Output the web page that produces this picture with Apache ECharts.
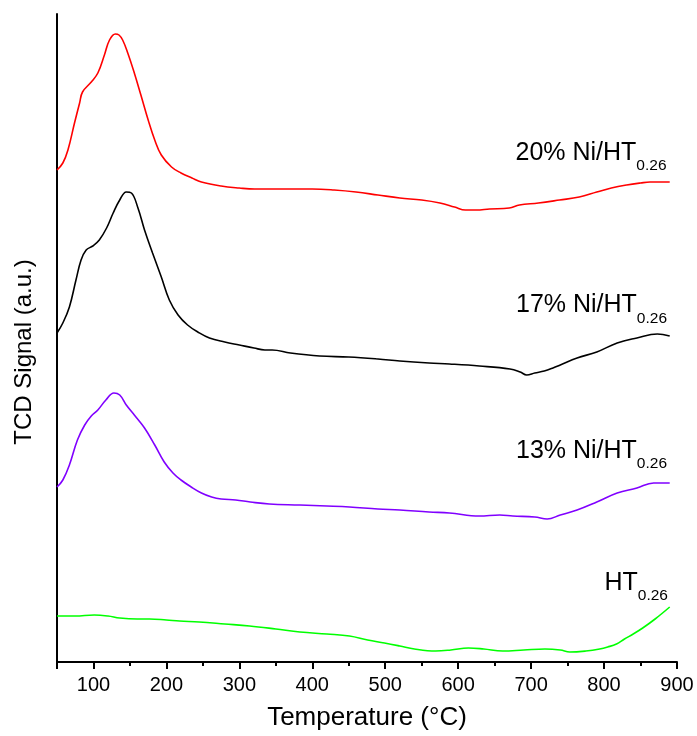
<!DOCTYPE html>
<html><head><meta charset="utf-8">
<script src="https://cdn.jsdelivr.net/npm/echarts@6/dist/echarts.min.js"></script>
<style>html,body{margin:0;padding:0;background:#fff}#c{width:697px;height:736px}</style>
</head><body><div id="c"></div>
<script>
// ---- data (temperature °C, TCD signal in arbitrary units) ----
const redT = [50,58,65,74,81,85,97,106,115,122,130,135,140,147,156,165,175,184,193,207,220,235,248,275,300,321,360,400,430,460,490,520,550,575,595,610,625,643,670,684,710,739,766,790,810,831,850,863,880,890];
const redV = [492,499,512,539,559,570,580,589,607,622,628,627,622,609,589,567,542,522,507,495,489,484,480,476,474,473,473,473,472,470,467,464,462,459,455,452,452,453,454,457,459,462,465,470,474,477,479,480,480,480];

const blackT = [50,58,67,76,83,90,99,108,118,127,136,145,152,161,170,181,193,204,216,229,243,259,280,300,320,335,345,370,410,450,490,520,560,588,629,671,685,694,705,718,730,740,763,790,818,845,873,890];
const blackV = [329,339,355,382,402,412,416,422,434,449,462,470,469,454,432,409,385,362,347,337,330,324,320,317,314,312,312,309,306,305,303,301,299,298,296,293,290,287,289,291,294,297,304,310,319,324,328,326];

const purpleT = [50,58,67,78,88,97,106,117,128,136,145,156,170,184,197,209,220,234,248,262,275,295,315,341,383,420,451,490,520,560,588,629,657,675,705,722,740,763,790,818,845,868,890];
const purpleV = [175,182,197,222,237,246,252,262,269,267,257,247,234,217,200,189,182,175,169,165,163,162,160,158,157,156,155,153,152,150,149,146,147,146,145,143,147,152,160,169,174,179,179];

const greenT = [50,75,101,120,136,160,177,200,218,245,280,314,350,383,420,451,476,499,520,540,569,590,614,635,661,690,719,740,753,775,794,805,817,828,840,853,870,890];
const greenV = [46,46,47,46,44,43,43,42,41,40,38,36,33,30,28,26,22,19,16,13,11,12,14,13,11,12,13,12,10,11,13,15,18,23,28,34,43,55];

const majorTicks = [50,100,200,300,400,500,600,700,800,900];
const tickLabels = [100,200,300,400,500,600,700,800,900];
const minorTicks = [150,250,350,450,550,650,750,850];

const seriesNames = ['20% Ni/HT', '17% Ni/HT', '13% Ni/HT', 'HT'];
const subscript = '0.26';
const xTitle = 'Temperature (°C)';
const yTitle = 'TCD Signal (a.u.)';

// ---- chart ----
const FONT = '"Liberation Sans", Arial, sans-serif';
const pairs = (t, v) => t.map((x, i) => [x, v[i]]);
const colors = ['#ff0000', '#000000', '#8000ff', '#00ff00'];
const dataSets = [pairs(redT, redV), pairs(blackT, blackV), pairs(purpleT, purpleV), pairs(greenT, greenV)];

const chart = echarts.init(document.getElementById('c'), null, {renderer: 'canvas'});

const labelPos = [[515.5, 153], [516, 305.5], [516, 451], [604.5, 583]];
const rich = {
  a: {fontSize: 25, fontFamily: FONT, lineHeight: 42, fill: '#000', verticalAlign: 'middle'},
  b: {fontSize: 15.5, fontFamily: FONT, lineHeight: 14, fill: '#000', verticalAlign: 'bottom'}
};

const gridRect = {left: 57, right: 20, top: 14, bottom: 74};

chart.setOption({
  backgroundColor: '#ffffff',
  animation: false,
  grid: [Object.assign({}, gridRect), Object.assign({}, gridRect)],
  xAxis: [{
    type: 'value', gridIndex: 0, min: 50, max: 900,
    name: xTitle, nameLocation: 'middle', nameGap: 43,
    nameTextStyle: {fontSize: 26, fontFamily: FONT, color: '#000'},
    axisLine: {show: true, lineStyle: {color: '#000', width: 2}},
    axisTick: {show: true, customValues: majorTicks, length: 7, inside: false, lineStyle: {color: '#000', width: 2}},
    axisLabel: {show: true, customValues: tickLabels, margin: 13, fontSize: 20, fontFamily: FONT, color: '#000'},
    splitLine: {show: false}
  }, {
    type: 'value', gridIndex: 1, min: 50, max: 900, position: 'bottom',
    axisLine: {show: false},
    axisTick: {show: true, customValues: minorTicks, length: 4, inside: false, lineStyle: {color: '#000', width: 2}},
    axisLabel: {show: false},
    splitLine: {show: false}
  }],
  yAxis: [{
    type: 'value', gridIndex: 0, min: 0, max: 648,
    axisLine: {show: true, lineStyle: {color: '#000', width: 2}},
    axisTick: {show: false}, axisLabel: {show: false}, splitLine: {show: false}
  }, {
    type: 'value', gridIndex: 1, min: 0, max: 648, show: false
  }],
  series: dataSets.map((d, i) => ({
    type: 'line', xAxisIndex: 0, yAxisIndex: 0, data: d,
    smooth: 0.4, showSymbol: false, symbol: 'none',
    lineStyle: {color: colors[i], width: 1.6}, z: 3
  })),
  graphic: seriesNames.map((n, i) => ({
    type: 'text', x: labelPos[i][0], y: labelPos[i][1],
    style: {text: '{a|' + n + '}{b|' + subscript + '}', rich: rich, align: 'left', verticalAlign: 'middle'}
  })).concat([{
    type: 'text', x: 24, y: 352, rotation: Math.PI / 2,
    style: {text: yTitle, font: '24px ' + FONT, fill: '#000', align: 'center', verticalAlign: 'middle'}
  }])
});
</script>
</body></html>
